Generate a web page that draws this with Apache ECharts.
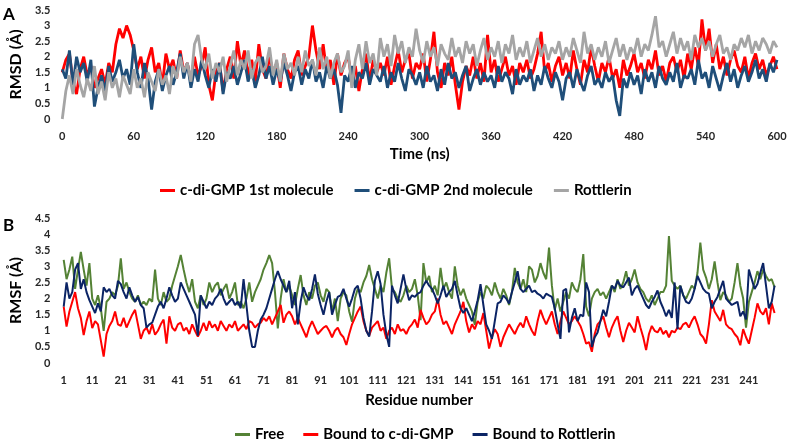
<!DOCTYPE html>
<html><head><meta charset="utf-8">
<script src="https://cdn.jsdelivr.net/npm/echarts/dist/echarts.min.js"></script>
<style>html,body{margin:0;padding:0;background:#fff}#c{width:794px;height:442px}</style>
</head><body><div id="c"></div>
<script>
// ---- Panel A: RMSD (Å) vs time (ns), sampled every 3 ns from 0 to 600 ----
const timeStepNs = 3;
const rmsdMol1 = [1.5,1.9,2.1,1.2,0.8,1.6,2.0,1.4,1.7,1.0,
 1.3,1.6,1.1,1.8,1.5,2.4,2.9,2.6,3.0,2.7,
 2.2,1.6,2.0,1.3,1.9,2.3,1.5,1.8,1.1,2.1,
 1.6,1.9,1.3,2.2,1.5,1.8,1.2,2.0,1.4,1.7,
 2.3,1.1,0.6,1.5,1.8,0.9,1.6,2.0,1.3,2.5,
 1.7,2.2,1.4,1.9,1.2,2.4,1.6,1.3,2.0,1.5,
 1.8,1.0,2.1,1.6,1.3,1.9,2.2,1.4,1.7,2.0,
 3.0,2.2,1.6,2.4,1.5,1.9,1.1,2.1,1.4,1.8,
 2.0,1.3,1.7,0.9,1.6,2.1,1.2,1.9,1.5,1.8,
 1.4,2.0,1.1,1.7,2.2,1.5,1.9,2.1,1.3,1.8,
 1.6,2.1,1.2,1.9,2.8,1.5,1.0,1.8,1.4,2.0,
 1.1,0.3,1.2,1.7,1.4,2.0,1.3,1.8,1.2,2.7,
 1.5,1.9,1.2,1.6,2.0,1.4,1.7,1.1,1.8,1.5,
 1.9,1.3,1.6,2.1,2.8,1.5,1.8,1.2,1.7,2.0,
 1.4,1.8,1.3,2.2,1.6,1.1,1.9,1.5,2.3,1.7,
 1.2,1.8,1.5,2.0,1.3,1.6,1.0,1.9,1.4,1.7,
 2.1,1.5,1.8,1.3,1.9,1.6,2.2,1.4,1.7,1.2,
 1.8,2.0,1.5,1.9,1.3,2.1,1.6,2.3,1.7,3.2,
 2.2,2.9,1.8,2.4,1.6,2.0,1.4,1.9,2.2,1.7,
 1.5,2.0,1.3,1.8,2.1,1.6,1.9,1.4,1.7,2.0,
 1.6];
const rmsdMol2 = [1.6,1.3,2.2,1.1,2.0,1.5,1.8,1.2,1.9,0.4,
 1.0,1.4,0.9,1.7,1.2,1.5,1.9,1.3,1.6,1.1,
 2.4,1.5,1.0,1.8,1.3,0.3,1.2,1.6,0.9,1.4,
 1.7,1.1,1.5,2.1,1.3,1.8,1.0,1.6,1.2,1.9,
 1.4,1.0,1.6,1.2,1.8,0.8,1.5,1.3,1.7,1.1,
 1.5,1.9,1.2,1.6,1.0,1.4,2.0,1.3,1.7,1.1,
 1.6,1.2,1.8,1.4,0.9,1.5,1.7,1.1,1.6,1.3,
 1.9,1.2,1.5,1.0,1.7,1.3,1.6,1.1,0.2,1.4,
 1.2,1.7,1.0,1.5,1.3,1.8,1.1,1.6,1.4,1.2,
 1.7,1.0,1.5,1.2,1.8,1.3,0.9,1.6,1.4,1.1,
 1.5,1.0,1.7,1.2,1.4,0.9,1.6,1.1,1.8,1.3,
 1.5,1.0,1.4,1.7,0.9,1.3,1.6,1.1,1.5,1.2,
 1.4,1.0,1.7,1.2,1.5,1.3,0.8,1.6,1.1,1.4,
 1.2,1.6,0.9,1.4,1.1,1.7,1.3,1.0,1.5,1.2,
 0.6,1.3,1.5,1.0,1.6,1.2,0.9,1.4,1.7,1.1,
 1.3,1.0,1.5,1.2,1.4,0.6,0.1,1.3,1.0,1.5,
 1.1,1.4,0.8,1.6,1.2,1.5,1.0,1.7,1.3,1.1,
 1.5,1.2,1.8,1.0,1.4,1.3,1.6,1.1,1.9,1.3,
 1.5,1.0,1.7,1.3,0.9,1.4,1.8,1.2,1.6,1.0,
 1.4,1.7,1.2,1.5,1.9,1.3,1.6,1.2,1.8,1.5,
 1.9];
const rmsdRottlerin = [0.0,0.9,1.4,0.8,1.6,1.1,0.7,1.3,0.9,1.7,
 0.8,1.2,0.6,1.5,1.0,1.3,0.7,1.4,1.1,0.8,
 1.6,1.0,1.3,0.7,1.5,1.2,0.9,1.6,1.1,1.4,
 0.8,1.7,1.3,2.0,1.5,1.8,1.2,2.4,2.7,1.9,
 1.6,2.1,1.3,1.8,1.5,2.0,1.2,1.7,2.2,1.4,
 1.9,1.6,2.2,1.3,1.8,2.0,1.5,1.7,2.3,1.4,
 1.9,1.2,2.1,1.6,1.8,1.4,2.0,1.5,2.2,1.7,
 1.9,1.4,2.3,1.6,2.0,1.3,1.8,2.1,1.5,1.7,
 2.2,1.0,1.9,2.4,1.6,2.5,1.8,2.1,1.4,2.6,
 2.0,2.4,1.7,2.7,2.1,2.5,1.8,2.3,2.0,2.9,
 2.2,1.8,2.5,2.0,2.3,1.7,2.4,2.1,1.9,2.6,
 2.0,2.3,1.8,2.5,2.1,2.4,1.7,2.2,2.6,1.9,
 2.3,2.0,2.5,1.8,2.4,2.1,2.7,1.9,2.3,2.0,
 2.5,1.8,2.2,2.6,2.0,2.4,1.9,2.3,2.1,2.5,
 1.9,2.3,2.0,2.6,2.2,1.8,2.8,2.1,2.4,1.9,
 2.3,2.0,2.5,1.8,2.2,2.6,2.0,2.4,1.9,2.3,
 2.1,2.6,2.0,2.4,2.2,2.7,3.3,2.3,2.5,2.0,
 2.4,2.8,2.1,2.6,2.2,2.5,1.9,2.7,2.3,2.6,
 2.2,2.5,2.0,2.4,2.7,2.1,2.3,1.9,2.4,2.2,
 2.6,2.3,2.7,2.1,2.5,2.2,2.6,2.4,2.1,2.5,
 2.3];
const timeTicks = [0,60,120,180,240,300,360,420,480,540,600];
const rmsdTicks = [0,0.5,1,1.5,2,2.5,3,3.5];

// ---- Panel B: RMSF (Å) per residue ----
const residueCount = 250;
const rmsfFree = [3.2,2.6,2.9,3.3,2.3,2.9,3.45,2.9,2.4,3.1,
 2.0,1.8,2.1,1.7,1.0,1.9,2.0,2.2,2.1,2.4,
 3.25,2.3,2.5,2.2,2.0,1.9,2.1,1.8,1.9,1.8,
 2.0,1.9,2.9,2.0,1.8,2.2,1.9,2.0,2.4,2.7,
 3.0,3.35,2.9,2.5,2.2,2.6,1.9,1.7,2.1,1.8,
 2.0,2.5,2.2,2.4,2.5,2.1,2.3,2.45,2.0,2.2,
 2.5,1.8,1.9,1.7,2.0,2.5,1.9,2.2,2.4,2.6,
 2.9,3.1,3.35,3.1,2.2,1.07,2.0,2.6,2.2,2.4,
 2.1,1.8,2.3,2.73,2.1,1.8,2.2,2.0,2.4,2.5,
 2.1,1.9,2.3,2.2,1.6,2.0,1.3,2.0,2.2,2.1,
 1.6,1.28,2.0,2.3,2.2,2.5,2.7,3.04,2.6,2.3,
 2.0,2.4,2.2,2.8,3.25,2.3,2.2,2.0,1.9,2.1,
 2.4,2.2,2.3,2.6,2.1,1.33,3.1,2.5,2.7,2.2,
 2.4,2.1,2.95,2.3,2.5,2.2,2.0,3.0,2.4,2.1,
 2.3,2.0,1.8,1.6,1.18,1.9,2.2,2.0,2.4,2.3,
 2.1,2.5,2.2,2.0,2.3,2.1,1.8,2.2,2.95,2.5,
 2.3,2.6,2.2,3.0,2.9,2.5,2.7,3.1,2.8,2.6,
 3.58,2.4,1.65,2.0,1.6,1.9,2.2,2.0,2.5,2.3,
 2.2,2.6,3.38,1.75,1.45,2.0,2.2,2.3,2.1,2.2,
 2.0,2.2,2.4,2.2,2.6,2.3,2.5,2.85,2.4,2.6,
 2.9,2.5,2.3,2.2,2.0,1.9,2.1,1.8,2.0,2.2,
 2.2,2.4,3.94,2.55,2.4,2.3,2.4,2.1,2.0,2.2,
 2.4,2.3,2.8,3.74,2.9,2.65,2.3,2.6,3.15,2.5,
 1.95,2.2,2.1,1.9,2.0,2.5,3.1,2.4,2.0,1.1,
 1.9,2.2,2.5,2.85,2.6,2.9,2.7,2.55,2.6,2.35];
const rmsfCdiGMP = [1.75,1.13,1.6,1.9,2.2,1.7,1.4,0.87,1.3,1.6,
 1.08,1.3,1.2,0.7,0.2,0.9,1.15,1.3,1.6,1.2,
 1.15,1.4,1.1,1.3,1.5,1.65,1.2,0.75,1.0,1.1,
 0.9,1.2,0.88,1.0,1.2,1.35,0.6,1.45,1.1,1.0,
 1.2,1.25,1.0,1.1,0.9,1.2,1.0,0.82,1.0,1.25,
 1.0,1.3,1.1,1.2,1.0,1.3,1.15,1.0,1.2,1.1,
 1.3,1.0,1.1,1.2,1.05,1.3,1.25,1.1,1.2,1.25,
 1.4,1.3,1.45,1.2,1.4,1.6,1.8,1.25,1.5,1.6,
 1.45,1.2,1.4,1.2,1.0,0.8,1.1,1.3,1.1,0.9,
 1.0,1.1,1.15,1.0,0.8,1.0,1.1,0.9,0.8,0.56,
 0.9,1.2,1.4,1.6,1.75,1.3,1.0,0.85,1.1,1.2,
 1.3,1.0,1.1,0.75,1.0,1.1,0.9,1.2,1.0,1.05,
 0.9,1.1,1.2,1.35,1.1,1.65,1.4,1.2,1.3,1.5,
 1.6,2.0,1.5,1.2,1.3,1.1,0.9,1.2,1.4,1.6,
 1.9,1.3,0.95,1.2,1.05,1.3,1.2,1.55,1.0,0.45,
 0.8,1.05,0.9,0.5,0.8,1.0,1.2,1.05,0.9,1.1,
 1.25,1.1,1.45,1.2,1.0,0.85,1.3,1.65,1.4,1.2,
 1.4,1.6,1.2,0.9,1.3,1.6,1.4,1.2,1.3,1.45,
 1.3,1.15,0.9,0.6,0.65,0.35,0.9,1.2,1.3,1.45,
 1.1,0.8,1.1,1.3,1.45,1.0,0.65,1.0,1.25,1.1,
 0.95,1.45,1.1,0.8,0.4,0.9,1.15,1.0,0.95,1.1,
 0.9,1.0,0.8,1.0,0.95,1.1,1.05,1.2,1.25,1.1,
 1.3,1.45,1.2,0.9,0.8,0.6,1.2,1.95,1.6,1.45,
 1.3,1.65,1.2,1.1,1.05,0.9,0.8,0.55,1.05,0.8,
 0.6,1.0,1.4,1.85,1.6,1.5,1.7,1.2,1.85,1.55];
const rmsfRottlerin = [1.75,2.5,2.0,2.2,2.9,3.1,2.3,2.6,2.2,1.95,
 1.75,1.55,1.85,1.6,2.35,2.2,2.3,2.1,2.0,2.55,
 2.45,2.2,2.0,2.35,2.1,1.9,2.05,1.8,1.7,1.1,
 1.2,1.25,1.5,1.75,1.9,1.7,2.0,2.35,2.1,1.9,
 2.0,2.5,2.3,2.1,1.9,1.7,1.5,0.85,2.1,1.9,
 1.7,1.9,1.8,2.0,2.1,2.3,2.0,1.8,1.9,2.0,
 1.8,1.9,1.7,2.6,1.8,1.0,0.5,0.5,1.0,1.35,
 1.5,1.7,2.0,2.3,2.6,2.85,2.6,2.4,2.2,2.55,
 1.7,2.2,1.2,1.9,2.35,2.1,1.95,2.3,2.75,2.15,
 1.8,1.5,1.9,2.2,1.5,1.8,2.05,2.1,2.3,2.0,
 1.75,2.0,2.3,2.4,2.0,1.4,1.0,0.82,1.6,2.55,
 2.85,2.45,1.5,0.9,0.5,2.4,2.1,1.85,2.3,2.75,
 2.3,1.95,2.1,2.05,2.15,2.2,2.4,2.55,2.4,2.3,
 2.1,1.85,2.1,2.4,2.05,2.2,2.3,2.55,2.1,1.7,
 1.55,1.7,1.5,1.3,1.6,1.95,2.45,1.8,1.2,1.0,
 0.75,1.3,1.85,1.9,2.1,2.0,1.85,2.2,2.5,2.85,
 2.3,2.2,2.3,2.4,2.2,2.25,2.15,2.1,2.0,2.15,
 2.1,2.05,1.7,1.2,0.75,2.25,2.3,0.95,1.4,1.7,
 1.3,1.5,1.45,2.5,2.2,0.5,0.8,0.95,1.3,1.65,
 1.45,1.9,2.4,2.3,2.55,2.4,2.35,2.5,2.65,2.1,
 2.3,2.4,2.2,2.0,1.8,1.7,1.9,2.05,2.25,1.9,
 1.7,1.45,1.65,1.4,2.5,1.05,2.4,2.1,1.9,1.85,
 2.0,2.3,2.7,2.5,2.3,2.2,2.15,1.7,1.9,2.05,
 2.3,2.55,2.0,1.9,1.8,1.85,1.9,1.45,1.6,1.35,
 2.9,2.6,2.3,2.45,2.8,3.1,2.4,1.7,1.9,2.4];
const rmsfTicks = [0,0.5,1,1.5,2,2.5,3,3.5,4,4.5];

const seriesNamesA = ['c-di-GMP 1st molecule','c-di-GMP 2nd molecule','Rottlerin'];
const seriesNamesB = ['Free','Bound to c-di-GMP','Bound to Rottlerin'];
const colorsA = ['#ff0000','#1f4e79','#a5a5a5'];
const colorsB = ['#548235','#ff0000','#0b2465'];

const residues = [];
for (let r = 1; r <= residueCount; r++) residues.push(String(r));
const toPairs = arr => arr.map((v, i) => [i * timeStepNs, v]);

const FONT = 'Lato, "Open Sans", sans-serif';
const tickStyle = {fontFamily: FONT, fontWeight: 'bold', fontSize: 11, color: '#262626'};
const titleStyle = {fontFamily: FONT, fontWeight: 'bold', fontSize: 15, color: '#000'};
const yTitleStyle = {fontFamily: FONT, fontWeight: 'bold', fontSize: 16, color: '#000'};
const legendText = {fontFamily: FONT, fontWeight: 'bold', fontSize: 15, color: '#000'};

const chart = echarts.init(document.getElementById('c'), null, {renderer: 'canvas'});
chart.setOption({
  animation: false,
  backgroundColor: '#fff',
  grid: [
    {left: 59, right: 17, top: 10, height: 109},
    {left: 57, right: 18, top: 218, height: 145}
  ],
  xAxis: [
    {gridIndex: 0, type: 'value', min: timeTicks[0], max: timeTicks[timeTicks.length-1], interval: timeTicks[1]-timeTicks[0],
     axisLine: {show: false}, axisTick: {show: false}, splitLine: {show: false},
     axisLabel: Object.assign({margin: 12}, tickStyle),
     name: 'Time (ns)', nameLocation: 'middle', nameGap: 28, nameTextStyle: titleStyle},
    {gridIndex: 1, type: 'category', data: residues, boundaryGap: true,
     axisLine: {show: false}, axisTick: {show: false}, splitLine: {show: false},
     axisLabel: Object.assign({margin: 12, interval: 9}, tickStyle),
     name: 'Residue number', nameLocation: 'middle', nameGap: 30, nameTextStyle: titleStyle}
  ],
  yAxis: [
    {gridIndex: 0, type: 'value', min: rmsdTicks[0], max: rmsdTicks[rmsdTicks.length-1], interval: 0.5,
     axisLine: {show: false}, axisTick: {show: false}, splitLine: {show: false},
     axisLabel: Object.assign({margin: 12}, tickStyle),
     name: 'RMSD (Å)', nameLocation: 'middle', nameRotate: 90, nameGap: 34, nameTextStyle: yTitleStyle},
    {gridIndex: 1, type: 'value', min: rmsfTicks[0], max: rmsfTicks[rmsfTicks.length-1], interval: 0.5,
     axisLine: {show: false}, axisTick: {show: false}, splitLine: {show: false},
     axisLabel: Object.assign({margin: 12}, tickStyle),
     name: 'RMSF (Å)', nameLocation: 'middle', nameRotate: 90, nameGap: 34, nameTextStyle: yTitleStyle}
  ],
  legend: [
    {data: seriesNamesA, left: 155, top: 178, icon: 'rect', itemWidth: 15, itemHeight: 3, itemGap: 21, textStyle: legendText},
    {data: seriesNamesB, left: 230, top: 422, icon: 'rect', itemWidth: 15, itemHeight: 3, itemGap: 19, textStyle: legendText}
  ],
  graphic: [
    {type: 'text', left: 3, top: 6, style: {text: 'A', font: 'bold 17px Lato, sans-serif', fill: '#000'}},
    {type: 'text', left: 3, top: 217, style: {text: 'B', font: 'bold 17px Lato, sans-serif', fill: '#000'}}
  ],
  series: [
    {name: seriesNamesA[0], type: 'line', xAxisIndex: 0, yAxisIndex: 0, data: toPairs(rmsdMol1), showSymbol: false, symbol: 'none', lineStyle: {width: 2.8, color: colorsA[0]}, itemStyle: {color: colorsA[0]}},
    {name: seriesNamesA[1], type: 'line', xAxisIndex: 0, yAxisIndex: 0, data: toPairs(rmsdMol2), showSymbol: false, symbol: 'none', lineStyle: {width: 2.8, color: colorsA[1]}, itemStyle: {color: colorsA[1]}},
    {name: seriesNamesA[2], type: 'line', xAxisIndex: 0, yAxisIndex: 0, data: toPairs(rmsdRottlerin), showSymbol: false, symbol: 'none', lineStyle: {width: 2.8, color: colorsA[2]}, itemStyle: {color: colorsA[2]}},
    {name: seriesNamesB[0], type: 'line', xAxisIndex: 1, yAxisIndex: 1, data: rmsfFree, showSymbol: false, symbol: 'none', lineStyle: {width: 2, color: colorsB[0]}, itemStyle: {color: colorsB[0]}},
    {name: seriesNamesB[1], type: 'line', xAxisIndex: 1, yAxisIndex: 1, data: rmsfCdiGMP, showSymbol: false, symbol: 'none', lineStyle: {width: 2, color: colorsB[1]}, itemStyle: {color: colorsB[1]}},
    {name: seriesNamesB[2], type: 'line', xAxisIndex: 1, yAxisIndex: 1, data: rmsfRottlerin, showSymbol: false, symbol: 'none', lineStyle: {width: 2, color: colorsB[2]}, itemStyle: {color: colorsB[2]}}
  ]
});
</script>
</body></html>
